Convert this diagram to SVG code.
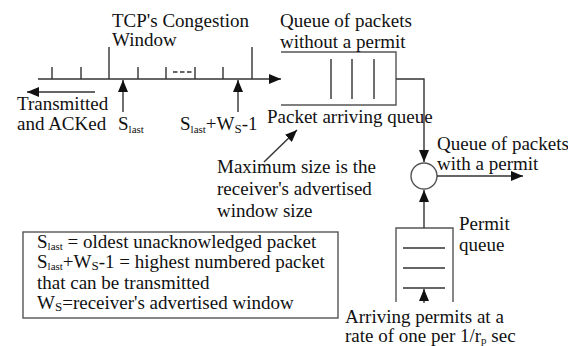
<svg xmlns="http://www.w3.org/2000/svg" width="568" height="346" viewBox="0 0 568 346">
  <defs>
    <marker id="arrow" viewBox="0 0 12 10" refX="12" refY="5" markerWidth="12" markerHeight="10" markerUnits="userSpaceOnUse" orient="auto">
      <path d="M0,0 L12,5 L0,10 z" fill="#111"/>
    </marker>
  </defs>
  <style>
    text { font-family: "Liberation Serif", "Times New Roman", "DejaVu Serif", serif; font-size: 19px; fill: #111; }
    .sub { font-size: 11px; }
    .subw { font-size: 13px; }
    .ln { stroke: #333; stroke-width: 1.4; fill: none; }
    .box { stroke: #555; stroke-width: 1.4; fill: none; }
    .arr { stroke: #333; stroke-width: 1.4; fill: none; marker-end: url(#arrow); }
  </style>

  <rect width="568" height="346" fill="#fff"/>

  <!-- sequence number axis of the sender -->
  <g id="window-axis">
    <line class="arr" x1="38" y1="79" x2="281" y2="79"/>
    <path class="ln" d="M52,67V79 M81,67V79 M138,67V79 M166,67V79 M195,67V79 M223,67V79 M109,47V79 M252,47V79"/>
    <line class="ln" x1="173" y1="72" x2="192" y2="72" stroke-dasharray="4.5,2.5"/>
    <text x="112" y="27">TCP's Congestion</text>
    <text x="112" y="46">Window</text>
  </g>

  <g id="transmitted">
    <text x="17" y="110">Transmitted</text>
    <text x="17" y="130">and ACKed</text>
  </g>

  <g id="s-last">
    <text x="118" y="130">S<tspan class="sub" dy="3">last</tspan></text>
  </g>

  <g id="s-last-ws">
    <text x="180" y="130">S<tspan class="sub" dy="3">last</tspan><tspan dy="-3">+W</tspan><tspan class="subw" dy="3">S</tspan><tspan dy="-3">-1</tspan></text>
  </g>

  <!-- queue of packets without a permit -->
  <g id="packet-queue">
    <path class="box" d="M281,52H396V105H281"/>
    <path class="ln" d="M331,59V99 M352,59V99 M374,59V99"/>
    <text x="280" y="27">Queue of packets</text>
    <text x="280" y="48">without a permit</text>
    <text x="267" y="123">Packet arriving queue</text>
  </g>

  <g id="max-size-note">
    <text x="217" y="173">Maximum size is the</text>
    <text x="217" y="195">receiver's advertised</text>
    <text x="217" y="217">window size</text>
  </g>

  <!-- merge point -->
  <g id="merge">
    <circle cx="424" cy="176" r="13" fill="#fff" stroke="#555" stroke-width="1.4"/>
    <text x="437" y="150">Queue of packets</text>
    <text x="437" y="170">with a permit</text>
  </g>

  <!-- permit queue -->
  <g id="permit-queue">
    <path class="box" d="M396,302V228H453V302"/>
    <path class="ln" d="M403,248H445 M403,268H445 M403,288H445"/>
    <text x="459" y="230">Permit</text>
    <text x="459" y="251">queue</text>
    <text x="345" y="323">Arriving permits at a</text>
    <text x="345" y="342">rate of one per 1/r<tspan class="sub" dy="2">p</tspan><tspan dy="-2"> sec</tspan></text>
  </g>

  <!-- legend -->
  <g id="legend">
    <rect class="box" x="23" y="232" width="315" height="86"/>
    <text x="37" y="248">S<tspan class="sub" dy="2">last</tspan><tspan dy="-2"> = oldest unacknowledged packet</tspan></text>
    <text x="37" y="268">S<tspan class="sub" dy="2">last</tspan><tspan dy="-2">+W</tspan><tspan class="subw" dy="2">S</tspan><tspan dy="-2">-1 = highest numbered packet</tspan></text>
    <text x="37" y="289">that can be transmitted</text>
    <text x="37" y="309">W<tspan class="subw" dy="2">S</tspan><tspan dy="-2">=receiver's advertised window</tspan></text>
  </g>

  <g id="connectors">
    <line class="arr" x1="95" y1="92" x2="27" y2="92"/>
    <line class="arr" x1="123" y1="112" x2="123" y2="80"/>
    <line class="arr" x1="238" y1="112" x2="238" y2="80"/>
    <path class="arr" d="M396,79H424V162"/>
    <line class="arr" x1="264" y1="162" x2="297" y2="130"/>
    <line class="arr" x1="437" y1="176" x2="523" y2="176"/>
    <line class="arr" x1="424" y1="228" x2="424" y2="190"/>
    <line class="arr" x1="424" y1="303" x2="424" y2="289"/>
  </g>
</svg>
